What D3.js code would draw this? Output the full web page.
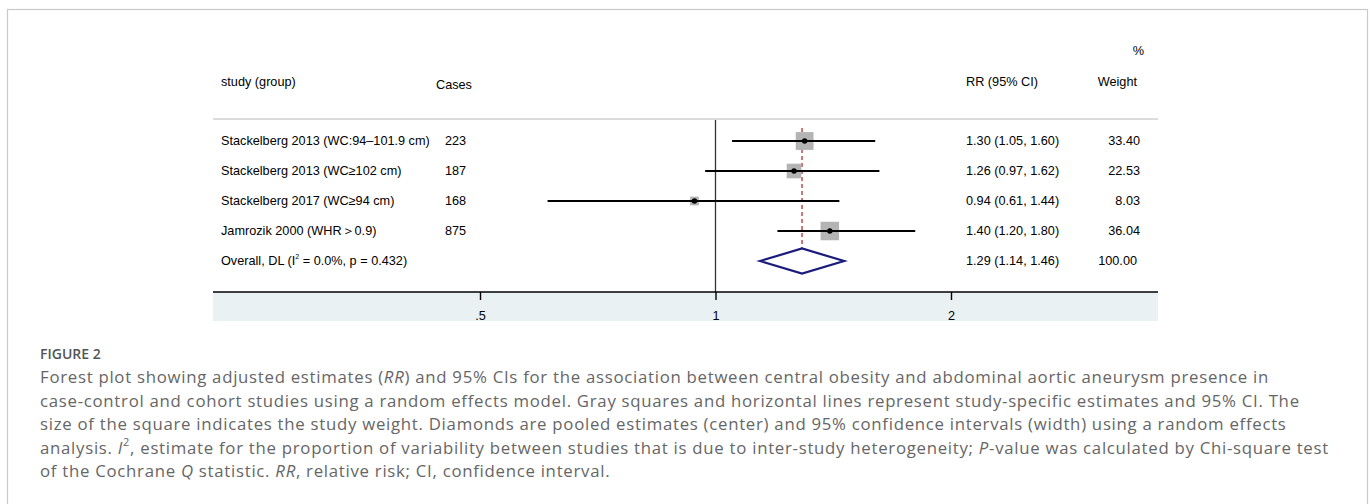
<!DOCTYPE html>
<html><head><meta charset="utf-8">
<script src="https://cdn.jsdelivr.net/npm/d3@7/dist/d3.min.js"></script>
<style>
html,body{margin:0;padding:0;background:#fff;}
svg{display:block;}
</style></head>
<body>
<svg id="chart" width="1370" height="504"></svg>
<script>
// ---- data ----
const studies = ["Stackelberg 2013 (WC:94\u2013101.9 cm)", "Stackelberg 2013 (WC\u2265102 cm)", "Stackelberg 2017 (WC\u226594 cm)", "Jamrozik 2000 (WHR\uFF1E0.9)"];
const cases = ["223", "187", "168", "875"];
const rr = [1.30, 1.26, 0.94, 1.40];
const lo = [1.05, 0.97, 0.61, 1.20];
const hi = [1.60, 1.62, 1.44, 1.80];
const weights = [33.40, 22.53, 8.03, 36.04];
const overallRR = 1.29, overallLo = 1.14, overallHi = 1.46, overallWeight = 100.00;
const overallLabel = {pre: "Overall, DL (", i: "I", sup: "2", post: " = 0.0%, p = 0.432)"};
const tickValues = [0.5, 1, 2];
const tickLabels = [".5", "1", "2"];
const headers = {study: "study (group)", cases: "Cases", rr: "RR (95% CI)", pct: "%", weight: "Weight"};
const captionTitle = "FIGURE 2";
const captionLines = [
  [["Forest plot showing adjusted estimates ("], ["RR", "i"], [") and 95% CIs for the association between central obesity and abdominal aortic aneurysm presence in"]],
  [["case-control and cohort studies using a random effects model. Gray squares and horizontal lines represent study-specific estimates and 95% CI. The"]],
  [["size of the square indicates the study weight. Diamonds are pooled estimates (center) and 95% confidence intervals (width) using a random effects"]],
  [["analysis. "], ["I", "i"], ["2", "sup"], [", estimate for the proportion of variability between studies that is due to inter-study heterogeneity; "], ["P", "i"], ["-value was calculated by Chi-square test"]],
  [["of the Cochrane "], ["Q", "i"], [" statistic. "], ["RR", "i"], [", relative risk; CI, confidence interval."]]
];

// ---- layout ----
const svg = d3.select("#chart");
const L = 213, R = 1158, axisY = 292, bandBottom = 321;
const stataFont = "'Liberation Sans', Arial, sans-serif";
const fs = 12.7;

// outer border
svg.append("rect").attr("x", 7.5).attr("y", 9.5).attr("width", 1360).attr("height", 600)
  .attr("fill", "none").attr("stroke", "#c9c9c9").attr("stroke-width", 1.2);

const x = d3.scaleLog().domain([0.5, 2]).range([480, 951]);
const rowLabels = studies.concat(["overall"]);
const y = d3.scalePoint().domain(d3.range(rowLabels.length)).range([141, 261]);
const size = d3.scaleSqrt().domain([0, d3.max(weights)]).range([0, 18.5]);

// header separator
svg.append("line").attr("x1", L).attr("x2", R).attr("y1", 119).attr("y2", 119)
  .attr("stroke", "#dcdcdc").attr("stroke-width", 2);

// axis band
svg.append("rect").attr("x", L).attr("y", axisY).attr("width", R - L).attr("height", bandBottom - axisY)
  .attr("fill", "#e9f1f3");

// null line
svg.append("line").attr("x1", x(1)).attr("x2", x(1)).attr("y1", 120).attr("y2", axisY)
  .attr("stroke", "#333").attr("stroke-width", 1.3);

// overall dashed line
svg.append("line").attr("x1", x(overallRR)).attr("x2", x(overallRR)).attr("y1", 128).attr("y2", 275)
  .attr("stroke", "#b01c1c").attr("stroke-width", 1.2).attr("stroke-dasharray", "4,3");

const idx = d3.range(studies.length);

// squares
svg.selectAll(".sq").data(idx).join("rect")
  .attr("x", i => x(rr[i]) - size(weights[i]) / 2)
  .attr("y", i => y(i) - size(weights[i]) / 2)
  .attr("width", i => size(weights[i])).attr("height", i => size(weights[i]))
  .attr("fill", "#b4b4b4");

// CIs
svg.selectAll(".ci").data(idx).join("line")
  .attr("x1", i => x(lo[i])).attr("x2", i => x(hi[i]))
  .attr("y1", i => y(i)).attr("y2", i => y(i))
  .attr("stroke", "#000").attr("stroke-width", 2);

// dots
svg.selectAll(".dot").data(idx).join("circle")
  .attr("cx", i => x(rr[i])).attr("cy", i => y(i)).attr("r", 2.7).attr("fill", "#000");

// diamond
const oy = y(studies.length);
svg.append("path")
  .attr("d", d3.line()([[x(overallLo), oy], [x(overallRR), oy - 12.5], [x(overallHi), oy], [x(overallRR), oy + 12.5]]) + "Z")
  .attr("fill", "#fff").attr("stroke", "#1b1b7d").attr("stroke-width", 2.2);

// axis
const axis = svg.append("g").attr("transform", `translate(0,${axisY})`)
  .call(d3.axisBottom(x).tickValues(tickValues).tickFormat((d, i) => tickLabels[i]).tickSize(8).tickPadding(11));
axis.select(".domain").remove();
axis.selectAll(".tick line").attr("stroke", "#000").attr("stroke-width", 1.4);
axis.selectAll(".tick text").attr("font-family", stataFont).attr("font-size", fs).attr("fill", "#000");
svg.append("line").attr("x1", L).attr("x2", R).attr("y1", axisY).attr("y2", axisY)
  .attr("stroke", "#000").attr("stroke-width", 1.4);

// text columns
const txt = (xx, yy, s, anchor) => svg.append("text").attr("x", xx).attr("y", yy)
  .attr("font-family", stataFont).attr("font-size", fs).attr("fill", "#000")
  .attr("text-anchor", anchor || "start").attr("dominant-baseline", "central").text(s);

txt(221, 82, headers.study);
txt(436, 85, headers.cases);
txt(966, 82, headers.rr);
txt(1144, 51, headers.pct, "end");
txt(1137, 82, headers.weight, "end");

const fmt = d3.format(".2f");
idx.forEach(i => {
  txt(221, y(i), studies[i]);
  txt(445, y(i), cases[i]);
  txt(966, y(i), `${fmt(rr[i])} (${fmt(lo[i])}, ${fmt(hi[i])})`);
  txt(1140, y(i), fmt(weights[i]), "end");
});
const ov = svg.append("text").attr("x", 221).attr("y", oy).attr("font-family", stataFont)
  .attr("font-size", fs).attr("dominant-baseline", "central").attr("fill", "#000");
ov.append("tspan").text(overallLabel.pre);
ov.append("tspan").text(overallLabel.i);
ov.append("tspan").attr("font-size", 7).attr("dy", -5).text(overallLabel.sup);
ov.append("tspan").attr("dy", 5).text(overallLabel.post);
txt(966, oy, `${fmt(overallRR)} (${fmt(overallLo)}, ${fmt(overallHi)})`);
txt(1137, oy, fmt(overallWeight), "end");

// caption
const capFont = "'Open Sans', 'Noto Sans', sans-serif";
svg.append("text").attr("x", 40).attr("y", 353).attr("font-family", capFont).attr("font-size", 14)
  .attr("font-weight", 600).attr("fill", "#555").attr("dominant-baseline", "central").text(captionTitle);
const capY = [376, 399.5, 423, 446.5, 470];
captionLines.forEach((segs, li) => {
  const t = svg.append("text").attr("x", 40).attr("y", capY[li]).attr("font-family", capFont)
    .attr("font-size", 16.8).attr("letter-spacing", 0.72).attr("fill", "#666").attr("dominant-baseline", "central");
  let shifted = false;
  segs.forEach(([s, st]) => {
    const sp = t.append("tspan").text(s);
    if (st === "i") sp.attr("font-style", "italic");
    if (st === "sup") { sp.attr("font-size", 11).attr("dy", -6); shifted = true; }
    else if (shifted) { sp.attr("dy", 6); shifted = false; }
  });
});
</script>
</body></html>
